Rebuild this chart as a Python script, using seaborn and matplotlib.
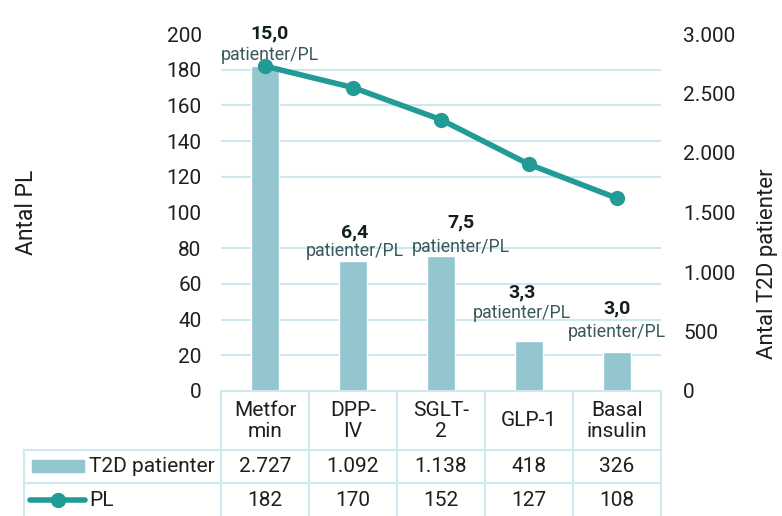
import matplotlib
matplotlib.use('Agg')
import matplotlib.pyplot as plt
import seaborn as sns
import pandas as pd
from matplotlib.ticker import MultipleLocator, FuncFormatter
from matplotlib.transforms import Affine2D, blended_transform_factory
from matplotlib.patches import Rectangle
from matplotlib.lines import Line2D

# data
laegemidler = ['Metformin', 'DPP-IV', 'SGLT-2', 'GLP-1', 'Basal insulin']
kolonne_tekst = ['Metfor\nmin', 'DPP-\nIV', 'SGLT-\n2', 'GLP-1', 'Basal\ninsulin']
t2d_patienter = [2727, 1092, 1138, 418, 326]
antal_pl = [182, 170, 152, 127, 108]

BAR = '#93c6ce'
LINE = '#229b96'
GRID = '#cde9ef'
TXT = '#1f1f1f'
SUB = '#3a585b'

sns.set_theme(style='white')
plt.rcParams['font.family'] = ['Roboto', 'DejaVu Sans']
plt.rcParams['font.weight'] = 'normal'

df = pd.DataFrame({'laegemiddel': laegemidler, 't2d': t2d_patienter, 'pl': antal_pl})

W, H = 782, 516
fig = plt.figure(figsize=(W / 100, H / 100), dpi=100)
ax = fig.add_axes([221 / W, 125 / H, 440 / W, 357 / H])
ax2 = ax.twinx()

sns.barplot(data=df, x='laegemiddel', y='t2d', ax=ax2, color=BAR, width=0.31, saturation=1)
sns.lineplot(data=df, x='laegemiddel', y='pl', ax=ax, color=LINE, lw=4, marker='o',
             markersize=11, markeredgewidth=0, sort=False)

ax.set_zorder(ax2.get_zorder() + 1)
ax.patch.set_visible(False)
ax.set_xlim(-0.5, 4.5)
ax.set_ylim(0, 200)
ax.yaxis.set_major_locator(MultipleLocator(20))
ax2.set_ylim(0, 3000)
ax2.yaxis.set_major_locator(MultipleLocator(500))
ax2.yaxis.set_major_formatter(FuncFormatter(lambda v, p: f'{v:,.0f}'.replace(',', '.')))
ax2.yaxis.set_minor_locator(MultipleLocator(300))
ax2.grid(False, which='major')
ax2.grid(True, which='minor', axis='y', color=GRID, lw=1.5)
ax2.set_axisbelow(True)

for a in (ax, ax2):
    for s in a.spines.values():
        s.set_visible(False)
    a.tick_params(axis='both', which='both', length=0, labelbottom=False, labelsize=15, colors=TXT)
    a.set_xlabel('')
ax.tick_params(axis='y', pad=14)
ax2.tick_params(axis='y', pad=16)
ax.set_ylabel('Antal PL', fontsize=16.5, color=TXT)
ax.yaxis.set_label_coords(-0.415, 0.5)
ax2.set_ylabel('Antal T2D patienter', fontsize=16, color=TXT)
ax2.yaxis.set_label_coords(1.218, 0.358)

# patienter per PL labels
dx = [5, 2, 20, -7, 0]
dy_tal = [33, 29, 33, 49, 44]
dy_txt = [11, 10, 9, 28, 20]
for i, (t, p) in enumerate(zip(t2d_patienter, antal_pl)):
    ratio = f'{t / p:.1f}'.replace('.', ',')
    ax2.annotate(ratio, xy=(i, t), xytext=(dx[i], dy_tal[i]), textcoords='offset pixels',
                 ha='center', va='center', fontsize=14, fontweight='bold', color='#14201f')
    ax2.annotate('patienter/PL', xy=(i, t), xytext=(dx[i], dy_txt[i]), textcoords='offset pixels',
                 ha='center', va='center', fontsize=12.8, color=SUB)

# data table under the chart
pix = Affine2D().scale(1 / W, -1 / H).translate(0, 1) + fig.transFigure
col = blended_transform_factory(ax.transData, pix)
kw = dict(color=GRID, lw=1.5, clip_on=False)
for x in [-0.5, 0.5, 1.5, 2.5, 3.5, 4.5]:
    fig.add_artist(Line2D([x, x], [391, 520], transform=col, **kw))
fig.add_artist(Line2D([221, 661], [391, 391], transform=pix, **kw))
fig.add_artist(Line2D([24, 24], [450, 520], transform=pix, **kw))
for y in (450, 483):
    fig.add_artist(Line2D([24, 661], [y, y], transform=pix, **kw))

for i in range(len(laegemidler)):
    fig.text(i, 421, kolonne_tekst[i], transform=col, ha='center', va='center',
             fontsize=15, color=TXT, linespacing=1.1)
    fig.text(i, 467, f'{t2d_patienter[i]:,}'.replace(',', '.'), transform=col,
             ha='center', va='center', fontsize=15, color=TXT)
    fig.text(i, 500, str(antal_pl[i]), transform=col, ha='center', va='center',
             fontsize=15, color=TXT)

fig.add_artist(Rectangle((32, 472), 52, -12, transform=pix, color=BAR))
fig.text(89, 467, 'T2D patienter', transform=pix, ha='left', va='center', fontsize=15, color=TXT)
fig.add_artist(Line2D([30, 85], [500, 500], transform=pix, color=LINE, lw=4, solid_capstyle='round'))
fig.add_artist(Line2D([58], [500], transform=pix, color=LINE, marker='o', markersize=11, markeredgewidth=0))
fig.text(89, 500, 'PL', transform=pix, ha='left', va='center', fontsize=15, color=TXT)

fig.savefig('out.png', dpi=100)
